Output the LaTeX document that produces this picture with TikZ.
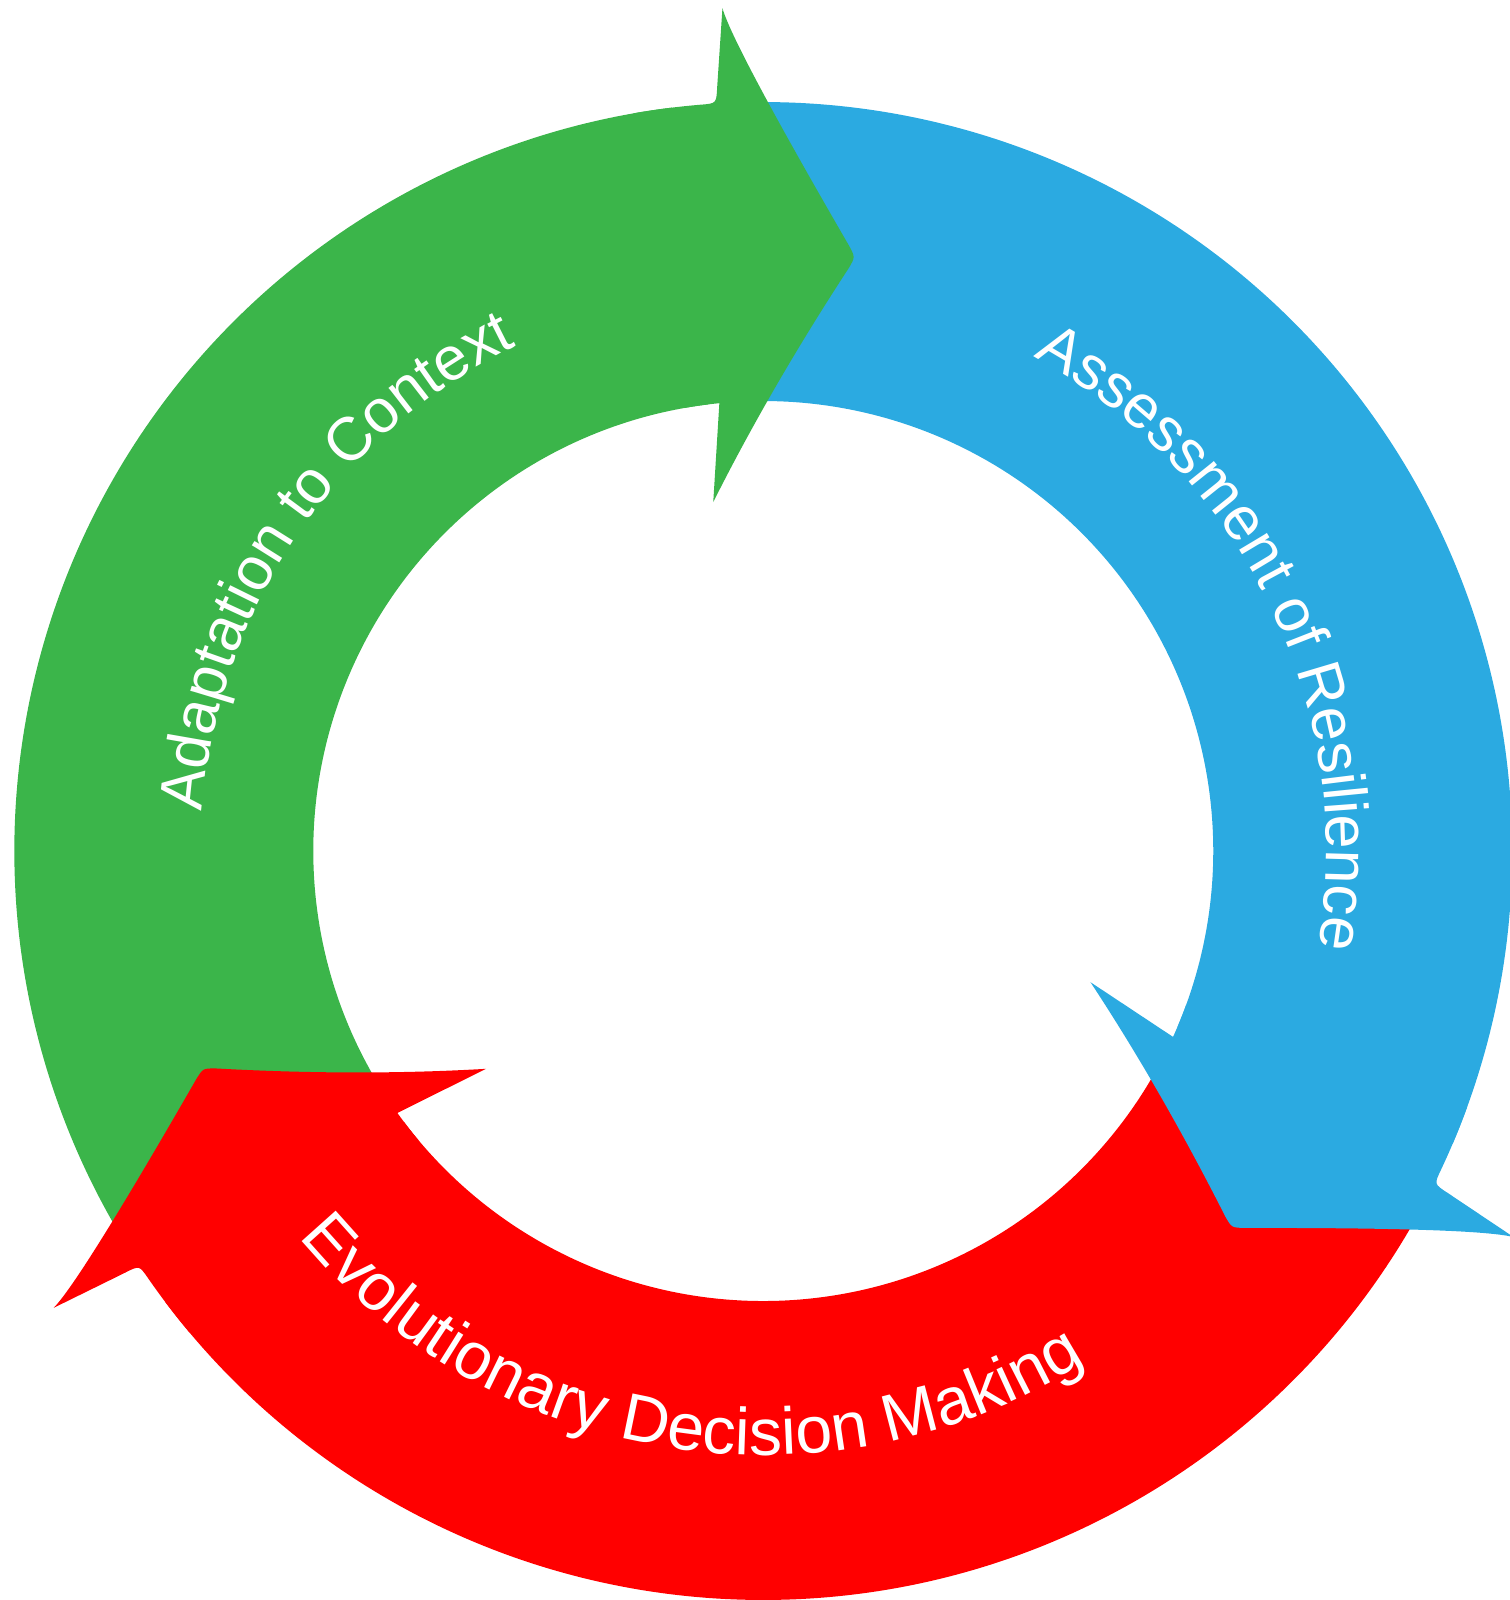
\documentclass[tikz,border=0pt]{standalone}
\usepackage{fontspec}
\setmainfont{Liberation Sans}
\usetikzlibrary{decorations.text}
\definecolor{cgreen}{RGB}{59,181,74}
\definecolor{cblue}{RGB}{43,170,225}
\definecolor{cred}{RGB}{255,0,0}
\tikzset{
  bandshape/.style={insert path={(211.5:734) arc[start angle=211.5, end angle=97, radius=734]
      -- (97:441) arc[start angle=97, end angle=211.5, radius=441] -- cycle}},
  headshape/.style={insert path={(100:734) arc[start angle=100, end angle=94.8, radius=734]
      .. controls (-46,732.6) .. (-45.2,748)
      -- (-40,826)
      .. controls (-33.3,802) and (8.1,724.2) .. (84.4,592.6)
      .. controls (90,582) .. (84,571.6)
      .. controls (33.3,494) and (-11.1,417.5) .. (-49,342)
      -- (95.6:441) arc[start angle=95.6, end angle=100, radius=441] -- cycle}},
}
\begin{document}
\begin{tikzpicture}[x=1pt,y=1pt]
\useasboundingbox (-748,-734) rectangle (731,834);
% bands
\fill[cgreen, bandshape];
\begin{scope}[rotate=-120]\fill[cblue, bandshape];\end{scope}
\begin{scope}[rotate=120]\fill[cred, bandshape];\end{scope}
% heads
\fill[cgreen, headshape];
\begin{scope}[rotate=-120]\fill[cblue, headshape];\end{scope}
\begin{scope}[rotate=120]\fill[cred, headshape];\end{scope}
% labels
\path[decorate, decoration={text along path, text align=center, text color=white,
   text={|\fontsize{60}{60}\selectfont|Adaptation to Context}}]
   (186:551) arc[start angle=186, end angle=106, radius=551];
\path[decorate, decoration={text along path, text align=center, text color=white,
   text={|\fontsize{60}{60}\selectfont|Assessment of Resilience}}]
   (67.75:552) arc[start angle=67.75, end angle=-16.25, radius=552];
\path[decorate, decoration={text along path, text align=center, text color=white,
   text={|\fontsize{65}{65}\selectfont|Evolutionary Decision Making}}]
   (213:592) arc[start angle=213, end angle=309, radius=592];
\end{tikzpicture}
\end{document}
